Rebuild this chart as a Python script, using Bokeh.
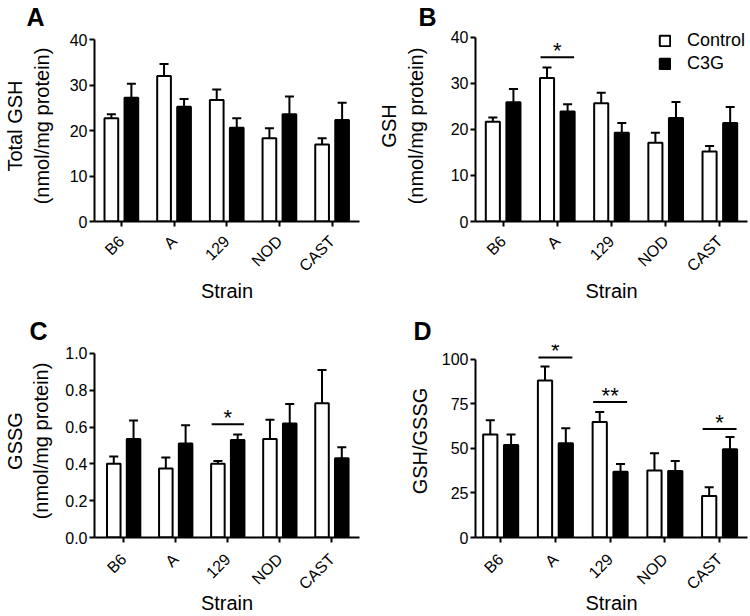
import math
from bokeh.plotting import figure
from bokeh.models import (ColumnDataSource, Range1d, FixedTicker, Legend, LegendItem)
from bokeh.transform import dodge
from bokeh.layouts import gridplot
from bokeh.embed import file_html
from bokeh.resources import INLINE
from bokeh.core.properties import value

FONT = "Liberation Sans"

strains = ["B6", "A", "129", "NOD", "CAST"]

total_gsh_control = [22.7, 32.0, 26.7, 18.3, 16.9]
total_gsh_control_sem = [0.9, 2.6, 2.3, 2.2, 1.4]
total_gsh_c3g = [27.2, 25.2, 20.6, 23.6, 22.3]
total_gsh_c3g_sem = [3.1, 1.7, 2.1, 3.9, 3.8]

gsh_control = [21.7, 31.2, 25.7, 17.1, 15.2]
gsh_control_sem = [0.9, 2.3, 2.3, 2.2, 1.2]
gsh_c3g = [25.9, 23.9, 19.3, 22.5, 21.4]
gsh_c3g_sem = [2.9, 1.6, 2.1, 3.5, 3.5]

gssg_control = [0.40, 0.375, 0.40, 0.535, 0.73]
gssg_control_sem = [0.04, 0.06, 0.015, 0.105, 0.18]
gssg_c3g = [0.535, 0.51, 0.53, 0.62, 0.43]
gssg_c3g_sem = [0.10, 0.10, 0.03, 0.105, 0.06]

ratio_control = [57.7, 88.0, 64.8, 37.6, 23.3]
ratio_control_sem = [8.0, 7.8, 5.6, 9.6, 4.9]
ratio_c3g = [51.9, 52.8, 36.8, 37.3, 49.5]
ratio_c3g_sem = [5.8, 8.4, 4.4, 5.6, 6.9]

ticks_gsh = [0, 10, 20, 30, 40]
ticks_gssg = [0.0, 0.2, 0.4, 0.6, 0.8, 1.0]
ticks_ratio = [0, 25, 50, 75, 100]

# significance markers: (strain, height, text)
sig_gsh = [("A", 35.7, "*")]
sig_gssg = [("129", 0.615, "*")]
sig_ratio = [("A", 100.9, "*"), ("129", 75.9, "**"), ("CAST", 60.8, "*")]

series_names = ["Control", "C3G"]


def make_panel(letter, ylabel, ctrl, ctrl_sem, c3g, c3g_sem, ticks, tick_fmt,
               y_end, geom, xr, letter_offset, ylab_standoff, xstand,
               sig=None, legend_loc=None):
    left, right, top, bottom = geom
    p = figure(width=375, height=308, output_backend="svg", toolbar_location=None,
               x_range=Range1d(*xr), y_range=Range1d(0, y_end),
               min_border_left=left, min_border_right=right,
               min_border_top=top, min_border_bottom=bottom)
    p.outline_line_color = None
    p.xgrid.visible = False
    p.ygrid.visible = False

    idx = list(range(len(strains)))
    src = ColumnDataSource(dict(
        x=idx,
        ctrl=ctrl, ctrl_top=[v + e for v, e in zip(ctrl, ctrl_sem)],
        c3g=c3g, c3g_top=[v + e for v, e in zip(c3g, c3g_sem)],
    ))
    off = 0.19
    w = 0.26
    xc = dodge("x", -off, range=p.x_range)
    xt = dodge("x", off, range=p.x_range)

    for xx, lo, hi in ((xc, "ctrl", "ctrl_top"), (xt, "c3g", "c3g_top")):
        p.segment(x0=xx, y0=lo, x1=xx, y1=hi, source=src, line_color="black", line_width=2)
        p.scatter(x=xx, y=hi, source=src, marker="dash", size=9, line_color="black", line_width=2)

    r1 = p.vbar(x=xc, top="ctrl", width=w, bottom=0, source=src,
                fill_color="white", line_color="black", line_width=2)
    r2 = p.vbar(x=xt, top="c3g", width=w, bottom=0, source=src,
                fill_color="black", line_color="black", line_width=2)

    if sig:
        sx = [strains.index(s) for s, _, _ in sig]
        ssrc = ColumnDataSource(dict(
            x0=[v - 0.31 for v in sx], x1=[v + 0.31 for v in sx], xm=sx,
            y=[h for _, h, _ in sig], t=[t for _, _, t in sig]))
        p.segment(x0="x0", y0="y", x1="x1", y1="y", source=ssrc, line_color="black", line_width=2)
        p.text(x="xm", y="y", text="t", source=ssrc, text_align="center",
               text_baseline="alphabetic", text_font=value(FONT), text_font_size="22px",
               y_offset=-7, text_color="black")

    # axes
    for ax in (p.xaxis[0], p.yaxis[0]):
        ax.axis_line_width = 2
        ax.axis_line_color = "black"
        ax.major_tick_line_width = 2
        ax.major_tick_line_color = "black"
        ax.major_tick_in = 0
        ax.major_tick_out = 5
        ax.minor_tick_line_color = None
        ax.major_label_text_font = FONT
        ax.major_label_text_font_size = "16px"
        ax.major_label_text_color = "black"
        ax.axis_label_text_font = FONT
        ax.axis_label_text_font_size = "20px"
        ax.axis_label_text_font_style = "normal"
        ax.axis_label_text_color = "black"

    ya = p.yaxis[0]
    ya.ticker = FixedTicker(ticks=ticks)
    ya.bounds = (ticks[0], ticks[-1])
    ya.major_label_overrides = {t: tick_fmt.format(t) for t in ticks}
    ya.axis_label = ylabel
    ya.major_label_standoff = 2
    ya.axis_label_standoff = ylab_standoff

    xa = p.xaxis[0]
    xa.ticker = FixedTicker(ticks=idx)
    xa.major_label_overrides = {i: s for i, s in enumerate(strains)}
    xa.major_label_orientation = math.pi / 4
    xa.axis_label = "Strain"
    xa.major_label_standoff = xstand[0]
    xa.axis_label_standoff = xstand[1]

    p.title.text = letter
    p.title.text_font = FONT
    p.title.text_font_size = "25px"
    p.title.text_font_style = "bold"
    p.title.text_color = "black"
    p.title.align = "left"
    p.title.offset = letter_offset
    p.title.standoff = 0

    if legend_loc is not None:
        legend = Legend(items=[LegendItem(label=series_names[0], renderers=[r1]),
                               LegendItem(label=series_names[1], renderers=[r2])],
                        location=legend_loc, orientation="vertical",
                        padding=0, margin=0, spacing=2,
                        glyph_width=13, glyph_height=13, label_standoff=16,
                        label_text_font=FONT, label_text_font_size="18px",
                        label_text_color="black",
                        border_line_color=None, background_fill_alpha=0)
        p.add_layout(legend)
    return p


pA = make_panel("A", "Total GSH\n(nmol/mg protein)",
                total_gsh_control, total_gsh_control_sem, total_gsh_c3g, total_gsh_c3g_sem,
                ticks_gsh, "{:d}", 41.98, (83, 16, 30, 87), (-0.51, 4.52), -68, 14, (12, -4))
pB = make_panel("B", "GSH\n(nmol/mg protein)",
                gsh_control, gsh_control_sem, gsh_c3g, gsh_c3g_sem,
                ticks_gsh, "{:d}", 41.52, (94, 3, 30, 87), (-0.51, 4.51), -57, 21, (12, -4),
                sig=sig_gsh, legend_loc=(183, 147))
pC = make_panel("C", "GSSG\n(nmol/mg protein)",
                gssg_control, gssg_control_sem, gssg_c3g, gssg_c3g_sem,
                ticks_gssg, "{:.1f}", 1.0485, (80, 13, 36, 77), (-0.56, 4.53), -65, 10, (14, -10),
                sig=sig_gssg)
pD = make_panel("D", "GSH/GSSG",
                ratio_control, ratio_control_sem, ratio_c3g, ratio_c3g_sem,
                ticks_ratio, "{:d}", 108.2, (97, 3, 32, 77), (-0.46, 4.51), -62, 8, (14, -10),
                sig=sig_ratio)

grid = gridplot([[pA, pB], [pC, pD]], toolbar_location=None)

open("out.html", "w").write(file_html(grid, INLINE))
